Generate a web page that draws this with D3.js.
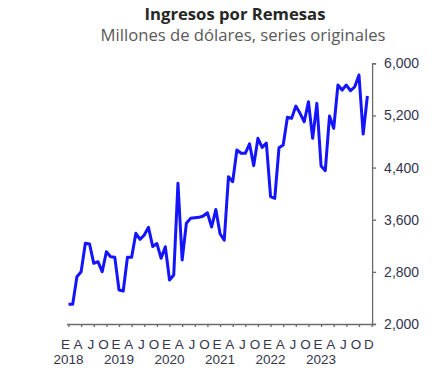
<!DOCTYPE html>
<html>
<head>
<meta charset="utf-8">
<script src="https://cdn.jsdelivr.net/npm/d3@7"></script>
<style>
  html, body { margin: 0; padding: 0; background: #fff; }
  svg { display: block; }
</style>
</head>
<body>
<svg id="chart" width="447" height="386"></svg>
<script>
// ---- Data (millions of USD, monthly, Jan 2018 - Dec 2023) ----
const startYear = 2018;
const remesas = [
  2302, 2302, 2726, 2802, 3238, 3227, 2931, 2956, 2802, 3109, 3032, 3023, // 2018
  2522, 2506, 3023, 3023, 3391, 3299, 3365, 3483, 3189, 3235, 3008, 3186, // 2019
  2675, 2752, 4158, 2982, 3545, 3621, 3631, 3637, 3657, 3707, 3488, 3756, // 2020
  3385, 3285, 4260, 4183, 4669, 4619, 4619, 4765, 4430, 4849, 4710, 4777, // 2021
  3953, 3928, 4703, 4746, 5171, 5155, 5344, 5232, 5103, 5410, 4849, 5385, // 2022
  4424, 4352, 5191, 5002, 5666, 5589, 5666, 5579, 5640, 5820, 4914, 5498  // 2023
];
const yTicks = [2000, 2800, 3600, 4400, 5200, 6000];
const quarterLetters = ["E", "A", "J", "O"];
const years = [2018, 2019, 2020, 2021, 2022, 2023];
const endLabel = { month: 71, text: "D" };
const titleText = "Ingresos por Remesas";
const subtitleText = "Millones de dólares, series originales";

// ---- Chart ----
const svg = d3.select("#chart");
const x = d3.scaleLinear().domain([0, 72]).range([68.5, 371.6]);
const y = d3.scaleLinear().domain([2000, 6000]).range([324, 63.3]);
const axisColor = "#6b6b6b";
const labelColor = "#35354d";

function fitText(sel, targetWidth) {
  const node = sel.node();
  const fs = parseFloat(sel.attr("font-size"));
  const w = node.getComputedTextLength();
  if (w > 0) sel.attr("font-size", (fs * targetWidth / w).toFixed(2));
}

// Title
const t1 = svg.append("text")
  .attr("x", 235).attr("y", 19.5)
  .attr("text-anchor", "middle")
  .attr("font-family", "'Open Sans', Lato, sans-serif")
  .attr("font-weight", "bold")
  .attr("font-size", 15)
  .attr("fill", "#262626")
  .text(titleText);
fitText(t1, 181);
const t2 = svg.append("text")
  .attr("x", 243).attr("y", 41)
  .attr("text-anchor", "middle")
  .attr("font-family", "'Open Sans', Lato, sans-serif")
  .attr("font-size", 14)
  .attr("fill", "#595959")
  .text(subtitleText);
fitText(t2, 285);

// Y axis (right)
const yAxis = d3.axisRight(y)
  .tickValues(yTicks)
  .tickSize(4)
  .tickSizeOuter(4)
  .tickPadding(8)
  .tickFormat(d3.format(",.0f"));
const gy = svg.append("g")
  .attr("transform", `translate(${x(72) + 0.5},0)`)
  .call(yAxis);
gy.selectAll("path, line").attr("stroke", axisColor).attr("stroke-width", 1.3);
gy.selectAll("text")
  .attr("font-family", "'Liberation Sans', Arial, sans-serif")
  .attr("font-size", 14)
  .attr("fill", labelColor);

// X axis (bottom)
const xAxis = d3.axisBottom(x)
  .tickValues(d3.range(0, 73, 3))
  .tickSize(3)
  .tickSizeOuter(0)
  .tickFormat("");
const gx = svg.append("g")
  .attr("transform", `translate(0,${y(2000)})`)
  .call(xAxis);
gx.select(".domain").attr("d", `M${x(0) - 1.5},0.5H${x(72) + 2}`);
gx.selectAll("path, line").attr("stroke", axisColor).attr("stroke-width", 1.3);

// Month letters
const monthLabels = [];
years.forEach((yr, yi) => {
  quarterLetters.forEach((l, qi) => {
    monthLabels.push({ m: yi * 12 + qi * 3, t: l });
  });
});
monthLabels.push({ m: endLabel.month, t: endLabel.text });
svg.append("g").selectAll("text")
  .data(monthLabels)
  .join("text")
  .attr("x", d => d.t === "D" ? x(d.m) + 1.5 : x(d.m) - 3)
  .attr("y", 349)
  .attr("text-anchor", "middle")
  .attr("font-family", "'Liberation Sans', Arial, sans-serif")
  .attr("font-size", 13.5)
  .attr("fill", labelColor)
  .text(d => d.t);

// Year labels
svg.append("g").selectAll("text")
  .data(years)
  .join("text")
  .attr("x", d => x((d - startYear) * 12))
  .attr("y", 364)
  .attr("text-anchor", "middle")
  .attr("font-family", "'Liberation Sans', Arial, sans-serif")
  .attr("font-size", 13.5)
  .attr("fill", labelColor)
  .text(d => d);

// Line
const line = d3.line()
  .x((d, i) => x(i))
  .y(d => y(d));
svg.append("path")
  .datum(remesas)
  .attr("fill", "none")
  .attr("stroke", "#1414ff")
  .attr("stroke-width", 3)
  .attr("stroke-linejoin", "round")
  .attr("d", line);
</script>
</body>
</html>
